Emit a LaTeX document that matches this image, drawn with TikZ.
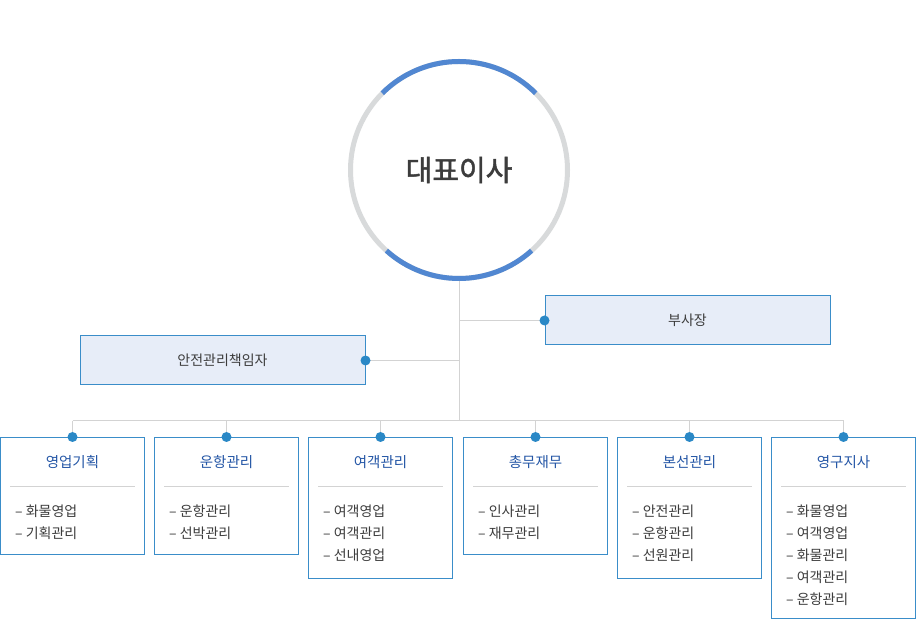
\documentclass[tikz,border=0pt]{standalone}
\usepackage{fontspec}
\setmainfont{Noto Sans CJK KR}
\newfontfamily\ceofont[FakeBold=1.6]{Noto Sans CJK KR}
\usetikzlibrary{positioning}
\definecolor{ringgray}{HTML}{D8DADB}
\definecolor{ringblue}{HTML}{5187D1}
\definecolor{boxblue}{HTML}{3A8DC9}
\definecolor{dotblue}{HTML}{2A88C6}
\definecolor{boxfill}{HTML}{E7EDF8}
\definecolor{headblue}{HTML}{2456A6}
\definecolor{linegray}{HTML}{D3D3D3}
\definecolor{textgray}{HTML}{3C3C3C}

\begin{document}
\begin{tikzpicture}[x=1pt,y=1pt,
  line/.style={draw=linegray,line width=1pt},
  dot/.style={circle,fill=dotblue,minimum size=10pt,inner sep=0pt},
  staff/.style={draw=boxblue,line width=1pt,fill=boxfill,minimum width=285pt,minimum height=49pt,inner sep=0pt,
    text=textgray,font=\fontsize{14}{16}\selectfont},
  dept/.style={draw=boxblue,line width=1pt,fill=white,minimum width=144pt,anchor=north,inner sep=0pt},
  head/.style={anchor=base,inner sep=0pt,text=headblue,font=\fontsize{14.5}{16}\selectfont},
  item/.style={anchor=base west,inner sep=0pt,text=textgray,font=\fontsize{14}{16}\selectfont},
  sep/.style={draw=linegray,line width=0.8pt}]

\useasboundingbox (0,0) rectangle (916,620);

\node [circle,draw=ringgray,line width=5pt,minimum size=217pt,fill=white,
  text=textgray,font=\ceofont\fontsize{29}{32}\selectfont] (ceo) at (459,450) {대표이사};
\draw [ringblue,line width=5pt] (ceo.center) ++(45:108.5) arc (45:135:108.5);
\draw [ringblue,line width=5pt] (ceo.center) ++(228:108.5) arc (228:312:108.5);

\node [staff] (vp) at (687.5,299.5) {부사장};
\node [staff] (safe) at (222.5,259.5) {안전관리책임자};

\node [dept,minimum height=117pt] (b1) at (72.5,183) {};
\node [dept,minimum height=117pt] (b2) at (226.5,183) {};
\node [dept,minimum height=141pt] (b3) at (380.5,183) {};
\node [dept,minimum height=117pt] (b4) at (535.5,183) {};
\node [dept,minimum height=141pt] (b5) at (689.5,183) {};
\node [dept,minimum height=181pt] (b6) at (843.5,183) {};

\coordinate (bus) at (459,199);

\draw [line] (ceo.south) -- (bus);
\draw [line] (vp.west -| bus) -- (vp.west);
\draw [line] (safe.east -| bus) -- (safe.east);
\draw [line] (b1.north |- bus) -- (b6.north |- bus);
\foreach \b in {b1,b2,b3,b4,b5,b6}
  \draw [line] (\b.north |- bus) -- (\b.north);

\node [dot] at (vp.west) {};
\node [dot] at (safe.east) {};
\foreach \b in {b1,b2,b3,b4,b5,b6} {
  \node [dot] at (\b.north) {};
  \draw [sep] ([shift={(10,-49)}]\b.north west) -- ([shift={(-10,-49)}]\b.north east);
}

\node [head] (t1) at ([yshift=-31]b1.north) {영업기획};
\node [head] (t2) at ([yshift=-31]b2.north) {운항관리};
\node [head] (t3) at ([yshift=-31]b3.north) {여객관리};
\node [head] (t4) at ([yshift=-31]b4.north) {총무재무};
\node [head] (t5) at ([yshift=-31]b5.north) {본선관리};
\node [head] (t6) at ([yshift=-31]b6.north) {영구지사};

\foreach \t [count=\i] in {화물영업,기획관리}
  \node [item] at ([shift={(15,-58-22*\i)}]b1.north west) {– \t};
\foreach \t [count=\i] in {운항관리,선박관리}
  \node [item] at ([shift={(15,-58-22*\i)}]b2.north west) {– \t};
\foreach \t [count=\i] in {여객영업,여객관리,선내영업}
  \node [item] at ([shift={(15,-58-22*\i)}]b3.north west) {– \t};
\foreach \t [count=\i] in {인사관리,재무관리}
  \node [item] at ([shift={(15,-58-22*\i)}]b4.north west) {– \t};
\foreach \t [count=\i] in {안전관리,운항관리,선원관리}
  \node [item] at ([shift={(15,-58-22*\i)}]b5.north west) {– \t};
\foreach \t [count=\i] in {화물영업,여객영업,화물관리,여객관리,운항관리}
  \node [item] at ([shift={(15,-58-22*\i)}]b6.north west) {– \t};

\end{tikzpicture}
\end{document}
